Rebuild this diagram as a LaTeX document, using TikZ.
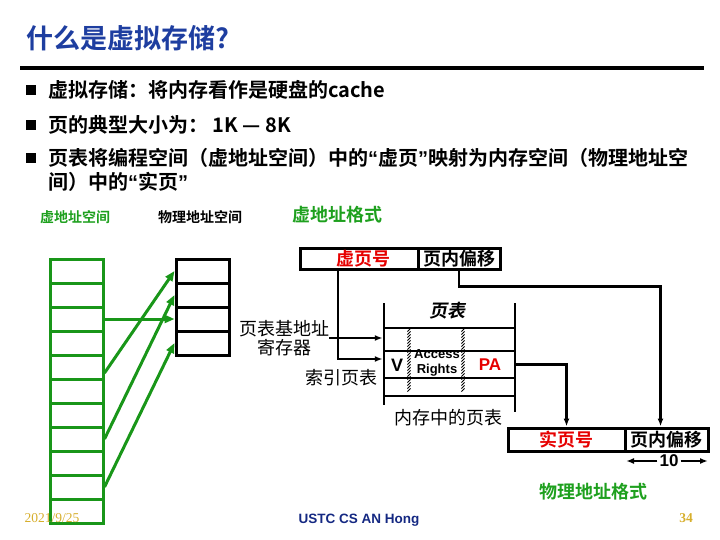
\documentclass[tikz,border=0pt]{standalone}
\usepackage{fontspec}
\setmainfont{Liberation Sans}
\newfontfamily\cjk[BoldFont={Noto Sans CJK SC Bold}]{Noto Sans CJK SC}
\newfontfamily\cjkslant[FakeSlant=0.2]{Noto Sans CJK SC Bold}
\newfontfamily\latinq{Liberation Sans}
\newfontfamily\datefont{Liberation Serif}
\usetikzlibrary{arrows.meta}
\definecolor{titleblue}{RGB}{30,62,160}
\definecolor{footblue}{RGB}{20,40,130}
\definecolor{vgreen}{RGB}{25,150,25}
\definecolor{lblgreen}{RGB}{30,160,30}
\definecolor{pred}{RGB}{230,0,0}
\definecolor{gold}{RGB}{215,175,45}
\begin{document}
\begin{tikzpicture}[
  x=1pt,
  y=-1pt,
  every node/.style={inner sep=0pt},
  titletext/.style={font=\cjk\bfseries\fontsize{27}{30}\selectfont, text=titleblue, anchor=west},
  bullettext/.style={font=\cjk\bfseries\fontsize{20}{24}\selectfont, anchor=west},
  sq/.style={fill=black, minimum size=10pt},
  spacelbl/.style={font=\cjk\bfseries\fontsize{14}{16}\selectfont},
  fmtlbl/.style={font=\cjk\bfseries\fontsize{18}{20}\selectfont},
  plainlbl/.style={font=\cjk\fontsize{18}{19}\selectfont},
  vcell/.style={draw=vgreen, line width=3pt, minimum width=53pt, minimum height=24pt},
  pcell/.style={draw=black, line width=3pt, minimum width=53pt, minimum height=24pt},
  field/.style={draw=black, line width=3pt, font=\cjk\bfseries\fontsize{18}{20}\selectfont},
  ptrow/.style={draw=black, line width=2.5pt, minimum width=131pt},
  mapto/.style={-{Triangle[length=10pt,width=8pt]}, draw=vgreen, line width=3pt},
  link/.style={-{Latex[length=8pt,width=6pt]}, line width=2.5pt}
]
  \useasboundingbox (0,0) rectangle (720,540);

  \node[titletext] (title) at (26,38) {什么是虚拟存储?};
  \draw[line width=4pt] (20,68) -- (704,68);

  \node[sq] (s1) at (31,90) {};
  \node[bullettext] (t1) at (48,90) {虚拟存储：将内存看作是硬盘的cache};
  \node[sq] (s2) at (31,125) {};
  \node[bullettext] (t2) at (48,125) {页的典型大小为： 1K — 8K};
  \node[sq] (s3) at (31,158) {};
  \node[bullettext] (t3) at (48,158) {页表将编程空间（虚地址空间）中的{\latinq“}虚页{\latinq”}映射为内存空间（物理地址空};
  \node[bullettext] (t4) at (48,182) {间）中的{\latinq“}实页{\latinq”}};

  \node[spacelbl, text=lblgreen] (vaslbl) at (75,217) {虚地址空间};
  \node[spacelbl] (paslbl) at (200,217) {物理地址空间};
  \node[fmtlbl, text=lblgreen] (vafmt) at (337,215) {虚地址格式};

  \foreach \i in {1,...,11}
    \node[vcell] (v\i) at (76.5,247+24*\i) {};
  \foreach \i in {1,...,4}
    \node[pcell] (p\i) at (202.5,247+24*\i) {};

  \draw[mapto] (v3.east) -- (p3.west);
  \draw[mapto] ([yshift=-6pt]v5.east) -- (p1.west);
  \draw[mapto] (v8.east) -- (p2.west);
  \draw[mapto] (v10.east) -- (p4.west);

  \node[field, minimum width=118pt, minimum height=21pt, text=pred] (vpn) at (359,258.5) {\hspace*{8pt}虚页号};
  \node[field, minimum width=82pt, minimum height=21pt] (voff) at (459,258.5) {页内偏移};

  \node[ptrow, minimum height=23pt] (row1) at (449.5,339.5) {};
  \node[ptrow, minimum height=27pt] (row2) at (449.5,364.5) {};
  \node[ptrow, minimum height=18pt] (row3) at (449.5,387) {};
  \draw[line width=2.5pt] (384,303) -- (384,405);
  \draw[line width=2.5pt] (515,303) -- (515,412);
  \foreach \hx in {409,463}
    \foreach \hy in {330,333,...,390}
      \draw[line width=0.9pt] (\hx-1.6,\hy+1.6) -- (\hx+1.6,\hy-1.6);

  \node[font=\cjkslant\fontsize{18}{20}\selectfont] (ptlbl) at (447,311) {页表};
  \node[font=\bfseries\fontsize{18}{20}\selectfont] (vbit) at (397,365) {V};
  \node[font=\bfseries\fontsize{13}{15}\selectfont, align=center] (rights) at (437,363) {Access\\Rights};
  \node[font=\bfseries\fontsize{17}{20}\selectfont, text=pred] (pa) at (490,365) {PA};

  \node[plainlbl, align=center] (ptbr) at (284,338) {页表基地址\\寄存器};
  \node[plainlbl] (idxlbl) at (341,378) {索引页表};
  \node[plainlbl] (memlbl) at (448,418) {内存中的页表};

  \node[field, minimum width=117pt, minimum height=23pt, text=pred] (pfn) at (566.5,439.5) {实页号};
  \node[field, minimum width=83pt, minimum height=23pt] (poff) at (666.5,439.5) {页内偏移};

  \coordinate (vpnturn) at (338,359);
  \draw[link] ([xshift=-21pt]vpn.south) -- (vpnturn) -- (vpnturn -| row2.west);
  \draw[link] (ptbr.east) -- (ptbr.east -| row1.west);
  \draw[link] (row2.east) -| (pfn.north);
  \draw[link] (voff.south) -- ++(0,16) -| ([xshift=-6pt]poff.north);

  \node[font=\bfseries\fontsize{17}{18}\selectfont] (len) at (669,461) {10};
  \coordinate (lenl) at (626,461);
  \coordinate (lenr) at (708,461);
  \draw[link, line width=2pt] ([xshift=-2pt]len.west) -- (lenl);
  \draw[link, line width=2pt] ([xshift=2pt]len.east) -- (lenr);

  \node[fmtlbl, text=lblgreen] (pafmt) at (593,492) {物理地址格式};

  \node[font=\datefont\fontsize{13.5}{15}\selectfont, text=gold] (date) at (52,518) {2021/9/25};
  \node[font=\bfseries\fontsize{13.5}{15}\selectfont, text=footblue] (author) at (359,520) {USTC CS AN Hong};
  \node[font=\datefont\bfseries\fontsize{13.5}{15}\selectfont, text=gold] (page) at (686,518) {34};
\end{tikzpicture}
\end{document}
